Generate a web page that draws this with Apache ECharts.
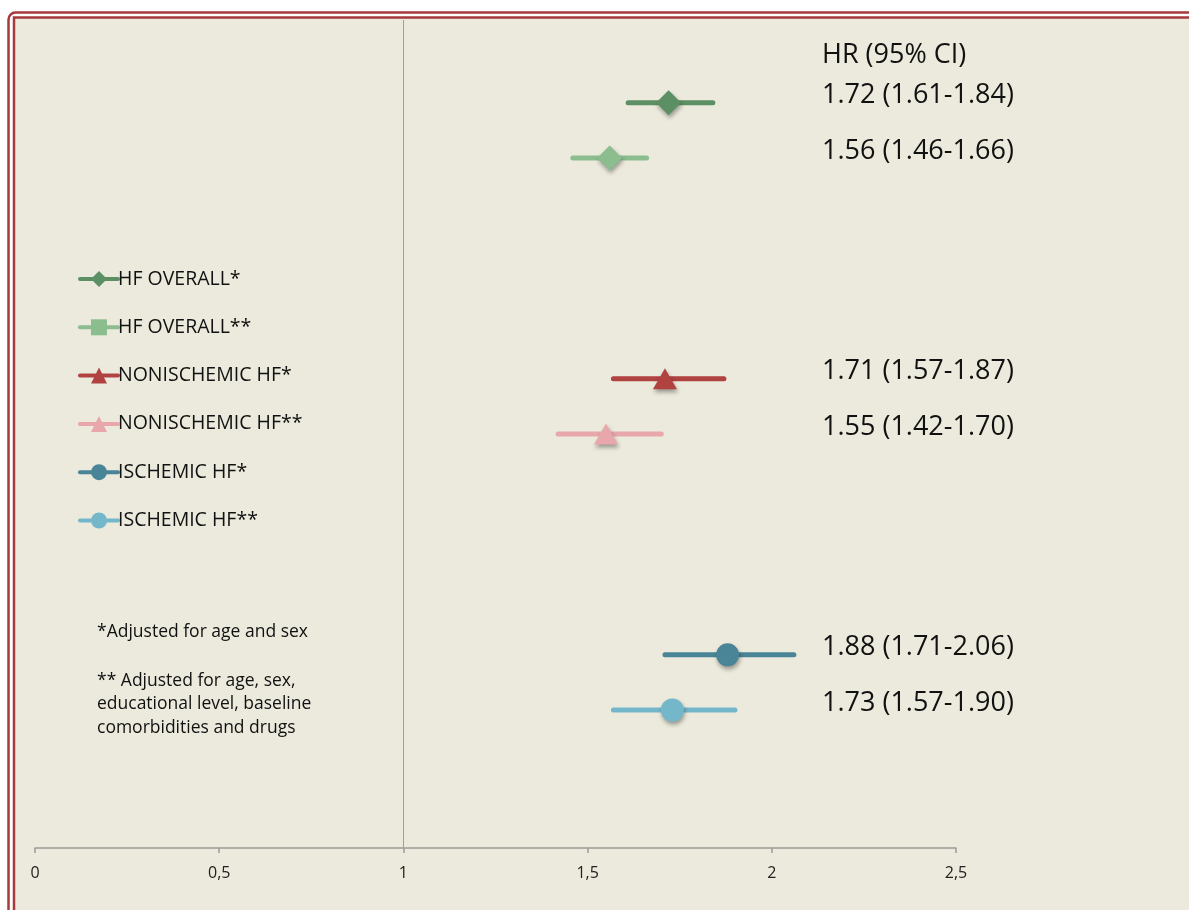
<!DOCTYPE html>
<html>
<head>
<meta charset="utf-8">
<script src="https://cdn.jsdelivr.net/npm/echarts@6/dist/echarts.min.js"></script>
<style>
  html, body { margin: 0; padding: 0; background: #ffffff; }
  #chart { width: 1189px; height: 910px; }
</style>
</head>
<body>
<div id="chart"></div>
<script>
// Hazard ratios with 95% confidence intervals
const groups = ['HF OVERALL*', 'HF OVERALL**', 'NONISCHEMIC HF*', 'NONISCHEMIC HF**', 'ISCHEMIC HF*', 'ISCHEMIC HF**'];
const hr     = [1.72, 1.56, 1.71, 1.55, 1.88, 1.73];
const ciLow  = [1.61, 1.46, 1.57, 1.42, 1.71, 1.57];
const ciHigh = [1.84, 1.66, 1.87, 1.70, 2.06, 1.90];

// Vertical slots (bottom to top); empty strings are spacing rows
const rowSlots = ['', '', 'ISCHEMIC HF**', 'ISCHEMIC HF*', '', '', '', 'NONISCHEMIC HF**', 'NONISCHEMIC HF*', '', '', '', 'HF OVERALL**', 'HF OVERALL*', ''];

const xTickLabels = ['0', '0,5', '1', '1,5', '2', '2,5'];
const headerText = 'HR (95% CI)';
const footnotes = ['*Adjusted for age and sex', '', '** Adjusted for age, sex,', 'educational level, baseline', 'comorbidities and drugs'];

const colors = ['#5d8f64', '#8bbd8e', '#b04240', '#e8a7aa', '#4a8497', '#74b7cb'];
const legendSymbols = ['diamond', 'rect', 'triangle', 'triangle', 'circle', 'circle'];
const markSymbols   = ['diamond', 'diamond', 'triangle', 'triangle', 'circle', 'circle'];
const markSizes     = [25, 25, [24, 21], [24, 21], 23, 23];

const FONT = '"Open Sans", Lato, sans-serif';

const fmt = v => v.toFixed(2);

const chart = echarts.init(document.getElementById('chart'), null, { renderer: 'canvas' });

const series = groups.map((g, i) => {
  const slot = rowSlots.indexOf(g);
  return {
    name: g,
    type: 'line',
    symbol: legendSymbols[i],
    symbolSize: markSizes[i],
    color: colors[i],
    lineStyle: { width: 5, color: colors[i], cap: 'round' },
    itemStyle: {
      color: colors[i],
      shadowBlur: 4,
      shadowOffsetY: 3,
      shadowOffsetX: 1,
      shadowColor: 'rgba(0,0,0,0.35)'
    },
    emphasis: { disabled: true },
    animation: false,
    z: 3,
    data: [
      { value: [ciLow[i], slot], symbol: 'none' },
      { value: [hr[i], slot], symbol: markSymbols[i], symbolSize: markSizes[i] },
      { value: [ciHigh[i], slot], symbol: 'none' }
    ],
    markLine: i === 0 ? {
      silent: true,
      symbol: 'none',
      label: { show: false },
      lineStyle: { color: '#a19f97', width: 1, type: 'solid' },
      data: [{ xAxis: 1 }],
      animation: false
    } : undefined
  };
});

chart.setOption({
  backgroundColor: '#ffffff',
  animation: false,
  grid: { left: 35, right: 233, top: 20, bottom: 62, containLabel: false },
  xAxis: {
    type: 'value',
    min: 0,
    max: 2.5,
    interval: 0.5,
    axisLine: { show: true, lineStyle: { color: '#9c9c98', width: 1.5 } },
    axisTick: { show: true, length: 5, lineStyle: { color: '#9c9c98', width: 1.5 } },
    splitLine: { show: false },
    axisLabel: {
      margin: 17,
      color: '#222222',
      fontFamily: FONT,
      fontSize: 16,
      formatter: (v) => xTickLabels[Math.round(v / 0.5)]
    }
  },
  yAxis: {
    type: 'category',
    data: rowSlots,
    boundaryGap: true,
    axisLine: { show: false },
    axisTick: { show: false },
    axisLabel: { show: false },
    splitLine: { show: false }
  },
  legend: {
    orient: 'vertical',
    left: 73,
    top: 264,
    itemWidth: 38,
    itemHeight: 20,
    itemGap: 28.3,
    selectedMode: false,
    lineStyle: { width: 4 },
    textStyle: { color: '#111111', fontFamily: FONT, fontSize: 19.5, padding: [0, 0, 0, -5] },
    data: groups
  },
  series: series
});

// Text column of HR (95% CI) values, aligned with each row
const textX = 822;
const graphics = [
  // double red frame
  { type: 'rect', z: -20, silent: true,
    shape: { x: 8.5, y: 12.5, width: 1220, height: 940, r: 7 },
    style: { fill: '#ffffff', stroke: '#a63a3c', lineWidth: 2.5 } },
  { type: 'rect', z: -19, silent: true,
    shape: { x: 14, y: 17.5, width: 1220, height: 940 },
    style: { fill: '#ebeadc', stroke: '#a63a3c', lineWidth: 2.5 } },
  { type: 'text', z: 10, silent: true, x: textX, y: 55,
    style: { text: headerText, fontFamily: FONT, fontSize: 27, fill: '#111111', textVerticalAlign: 'middle' } }
];

groups.forEach((g, i) => {
  const slot = rowSlots.indexOf(g);
  const py = chart.convertToPixel({ gridIndex: 0 }, [0, slot])[1];
  graphics.push({
    type: 'text', z: 10, silent: true, x: textX, y: py - 7,
    style: {
      text: fmt(hr[i]) + ' (' + fmt(ciLow[i]) + '-' + fmt(ciHigh[i]) + ')',
      fontFamily: FONT, fontSize: 27, fill: '#111111', textVerticalAlign: 'middle'
    }
  });
});

footnotes.forEach((line, k) => {
  if (!line) return;
  graphics.push({
    type: 'text', z: 10, silent: true, x: 97, y: 632 + (k === 0 ? 0 : 49 + (k - 2) * 23.5),
    style: { text: line, fontFamily: FONT, fontSize: 17.5, fill: '#111111', textVerticalAlign: 'middle' }
  });
});

chart.setOption({ graphic: graphics });
</script>
</body>
</html>
